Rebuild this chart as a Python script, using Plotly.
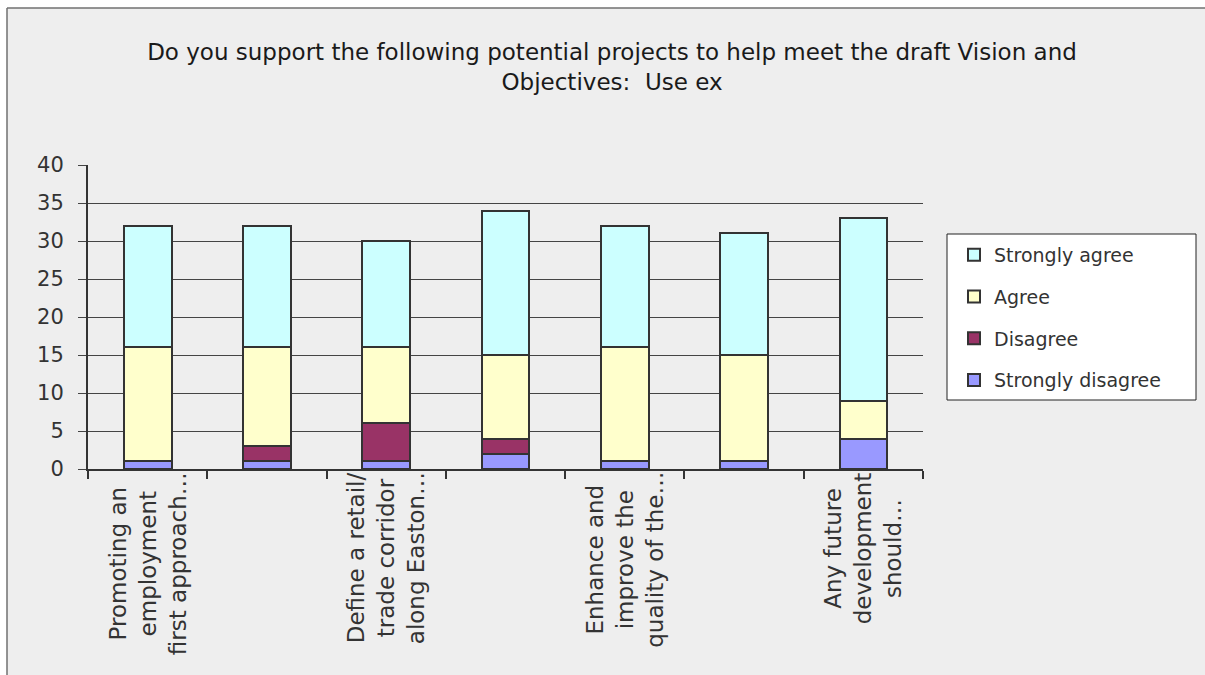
import plotly.graph_objects as go

# Survey responses per proposed project (counts of respondents)
project_no = [1, 2, 3, 4, 5, 6, 7]
project_labels = [
    "Promoting an<br>employment<br>first approach…",
    "",
    "Define a retail/<br>trade corridor<br>along Easton…",
    "",
    "Enhance and<br>improve the<br>quality of the…",
    "",
    "Any future<br>development<br>should…",
]
strongly_disagree = [1, 1, 1, 2, 1, 1, 4]
disagree = [0, 2, 5, 2, 0, 0, 0]
agree = [15, 13, 10, 11, 15, 14, 5]
strongly_agree = [16, 16, 14, 19, 16, 16, 24]

# (name, values, colour, legend position)
series = [
    ("Strongly disagree", strongly_disagree, "#9999ff", 4),
    ("Disagree", disagree, "#993366", 3),
    ("Agree", agree, "#ffffcc", 2),
    ("Strongly agree", strongly_agree, "#ccffff", 1),
]

W, H = 1205, 675
L, R, T, B = 88, 282, 165, 206
PW, PH = W - L - R, H - T - B


def px_x(px):
    return (px - L) / PW


def px_y(py):
    return (H - B - py) / PH


fig = go.Figure()
for name, vals, color, rank in series:
    fig.add_trace(go.Bar(
        x=project_no, y=vals, name=name, width=0.4,
        marker=dict(color=color, line=dict(color="#333333", width=2)),
        legendgroup=name, legendrank=rank,
    ))

# category labels, centred multi-line, rotated
for xv, lab in zip(project_no, project_labels):
    if lab:
        fig.add_annotation(
            x=xv, y=0, xref="x", yref="paper", text=lab, showarrow=False,
            textangle=-90, xanchor="center", yanchor="top", yshift=-1,
            align="center",
            font=dict(family="DejaVu Sans", size=23, color="#333333"),
        )

shapes = [
    # white page strips and chart-area border
    dict(type="rect", xref="paper", yref="paper", x0=px_x(-5), x1=px_x(W + 5),
         y0=px_y(8), y1=px_y(-5), fillcolor="white", line=dict(width=0), layer="below"),
    dict(type="rect", xref="paper", yref="paper", x0=px_x(-5), x1=px_x(7),
         y0=px_y(H + 5), y1=px_y(-5), fillcolor="white", line=dict(width=0), layer="below"),
    dict(type="line", xref="paper", yref="paper", x0=px_x(7), x1=px_x(W + 5),
         y0=px_y(8), y1=px_y(8), line=dict(color="#707070", width=1.5)),
    dict(type="line", xref="paper", yref="paper", x0=px_x(7), x1=px_x(7),
         y0=px_y(8), y1=px_y(H + 5), line=dict(color="#707070", width=1.5)),
    # legend frame
    dict(type="rect", xref="paper", yref="paper", x0=px_x(947), x1=px_x(1196),
         y0=px_y(400), y1=px_y(234), fillcolor="white",
         line=dict(color="#222222", width=1), layer="below"),
]

fig.update_layout(
    width=W, height=H,
    margin=dict(l=L, r=R, t=T, b=B, pad=0),
    paper_bgcolor="#eeeeee",
    plot_bgcolor="rgba(0,0,0,0)",
    barmode="stack",
    shapes=shapes,
    title=dict(
        text="Do you support the following potential projects to help meet the draft Vision and<br>Objectives:\u00a0 Use ex",
        x=612 / W, xanchor="center", yref="container", y=1 - 60 / H, yanchor="top",
        font=dict(family="DejaVu Sans", size=23, color="#1a1a1a"),
    ),
    legend=dict(
        x=px_x(954), y=px_y(236), xanchor="left", yanchor="top",
        bgcolor="rgba(0,0,0,0)", borderwidth=0,
        traceorder="grouped", tracegroupgap=14,
        font=dict(family="DejaVu Sans", size=19, color="#333333"),
    ),
    xaxis=dict(
        range=[0.5, 7.5], showgrid=False, zeroline=False,
        showline=True, linecolor="#333333", linewidth=2,
        tickmode="array", tickvals=[0.5 + i for i in range(8)],
        ticks="outside", ticklen=8, tickwidth=1.5, tickcolor="#333333",
        showticklabels=False,
    ),
    yaxis=dict(
        range=[0, 40], dtick=5, showgrid=True, gridcolor="#444444", gridwidth=1,
        zeroline=False, showline=True, linecolor="#333333", linewidth=2,
        ticks="outside", ticklen=8, tickwidth=1, tickcolor="#444444",
        ticklabelstandoff=10,
        tickfont=dict(family="DejaVu Sans", size=21, color="#333333"),
    ),
    showlegend=True,
)

fig.write_html("out.html")
